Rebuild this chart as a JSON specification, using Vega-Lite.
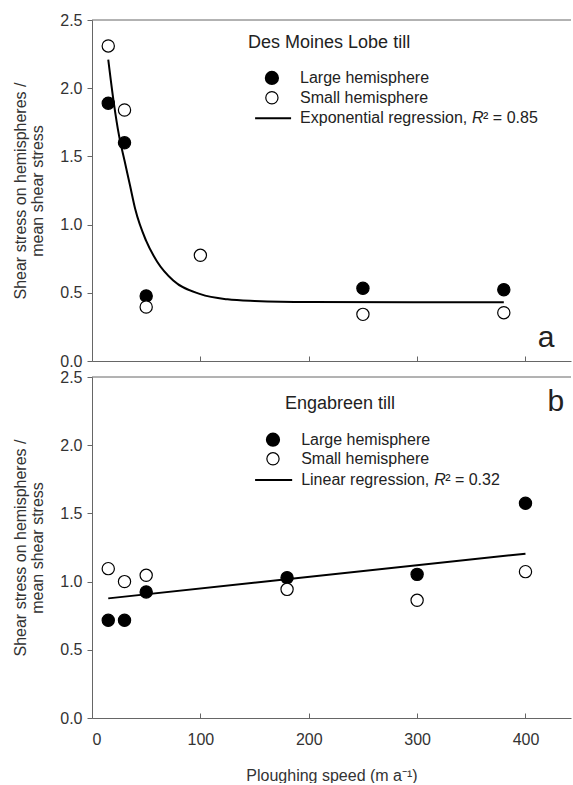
{
  "$schema": "https://vega.github.io/schema/vega-lite/v6.json",
  "autosize": {"type": "pad"},
  "padding": {"left": 12, "top": 12, "right": 0, "bottom": 0},
  "background": "white",
  "spacing": 0,
  "config": {
    "font": "Liberation Sans",
    "view": {"stroke": null},
    "axis": {
      "grid": false,
      "domainColor": "#666",
      "tickColor": "#666",
      "labelColor": "#333",
      "titleColor": "#333",
      "labelFont": "Liberation Sans",
      "titleFont": "Liberation Sans",
      "labelFontSize": 16,
      "titleFontSize": 16,
      "titleFontWeight": "normal"
    }
  },
  "datasets": {
    "one": [{}],
    "pts": [
      {"panel": "a", "hemisphere": "Small", "speed": 15, "ratio": 2.31},
      {"panel": "a", "hemisphere": "Large", "speed": 15, "ratio": 1.89},
      {"panel": "a", "hemisphere": "Small", "speed": 30, "ratio": 1.84},
      {"panel": "a", "hemisphere": "Large", "speed": 30, "ratio": 1.6},
      {"panel": "a", "hemisphere": "Large", "speed": 50, "ratio": 0.477},
      {"panel": "a", "hemisphere": "Small", "speed": 50, "ratio": 0.396},
      {"panel": "a", "hemisphere": "Small", "speed": 100, "ratio": 0.775},
      {"panel": "a", "hemisphere": "Large", "speed": 250, "ratio": 0.533},
      {"panel": "a", "hemisphere": "Small", "speed": 250, "ratio": 0.342},
      {"panel": "a", "hemisphere": "Large", "speed": 380, "ratio": 0.523},
      {"panel": "a", "hemisphere": "Small", "speed": 380, "ratio": 0.354},
      {"panel": "b", "hemisphere": "Small", "speed": 15, "ratio": 1.095},
      {"panel": "b", "hemisphere": "Small", "speed": 30, "ratio": 1.0},
      {"panel": "b", "hemisphere": "Small", "speed": 50, "ratio": 1.046},
      {"panel": "b", "hemisphere": "Large", "speed": 15, "ratio": 0.716},
      {"panel": "b", "hemisphere": "Large", "speed": 30, "ratio": 0.716},
      {"panel": "b", "hemisphere": "Large", "speed": 50, "ratio": 0.924},
      {"panel": "b", "hemisphere": "Large", "speed": 180, "ratio": 1.029},
      {"panel": "b", "hemisphere": "Small", "speed": 180, "ratio": 0.943},
      {"panel": "b", "hemisphere": "Large", "speed": 300, "ratio": 1.053},
      {"panel": "b", "hemisphere": "Small", "speed": 300, "ratio": 0.863},
      {"panel": "b", "hemisphere": "Large", "speed": 400, "ratio": 1.574},
      {"panel": "b", "hemisphere": "Small", "speed": 400, "ratio": 1.073}
    ],
    "fit": [
      {"panel": "a", "speed": 15, "ratio": 2.21},
      {"panel": "a", "speed": 20, "ratio": 1.9},
      {"panel": "a", "speed": 25, "ratio": 1.65},
      {"panel": "a", "speed": 30, "ratio": 1.47},
      {"panel": "a", "speed": 35, "ratio": 1.29},
      {"panel": "a", "speed": 40, "ratio": 1.11},
      {"panel": "a", "speed": 50, "ratio": 0.88},
      {"panel": "a", "speed": 60, "ratio": 0.73},
      {"panel": "a", "speed": 75, "ratio": 0.59},
      {"panel": "a", "speed": 100, "ratio": 0.49},
      {"panel": "a", "speed": 125, "ratio": 0.452},
      {"panel": "a", "speed": 150, "ratio": 0.44},
      {"panel": "a", "speed": 200, "ratio": 0.432},
      {"panel": "a", "speed": 380, "ratio": 0.43},
      {"panel": "b", "speed": 15, "ratio": 0.877},
      {"panel": "b", "speed": 400, "ratio": 1.205}
    ]
  },
  "vconcat": [
    {
      "width": 479,
      "height": 341,
      "layer": [
        {
          "data": {"name": "one"},
          "mark": {"type": "rule", "color": "#666", "strokeWidth": 1},
          "encoding": {"y": {"datum": 2.5, "type": "quantitative", "scale": {"domain": [0, 2.5], "nice": false}}}
        },
        {
          "data": {"name": "fit"},
          "transform": [{"filter": "datum.panel === 'a'"}],
          "mark": {"type": "line", "color": "black", "strokeWidth": 2, "interpolate": "monotone"},
          "encoding": {
            "x": {"field": "speed", "type": "quantitative", "scale": {"domain": [0, 442], "nice": false, "zero": true},
                  "axis": {"values": [0, 100, 200, 300, 400], "labels": false, "title": null, "tickSize": -5}},
            "y": {"field": "ratio", "type": "quantitative", "scale": {"domain": [0, 2.5], "nice": false},
                  "axis": {"values": [0, 0.5, 1, 1.5, 2, 2.5], "format": ".1f", "tickSize": 5, "labelPadding": 5,
                           "title": ["Shear stress on hemispheres /", "mean shear stress"], "titleLineHeight": 17, "titlePadding": 14}}
          }
        },
        {
          "data": {"name": "pts"},
          "transform": [{"filter": "datum.panel === 'a'"}],
          "mark": {"type": "circle", "size": 150, "stroke": "black", "strokeWidth": 1.2, "opacity": 1},
          "encoding": {
            "x": {"field": "speed", "type": "quantitative"},
            "y": {"field": "ratio", "type": "quantitative"},
            "fill": {"field": "hemisphere", "type": "nominal", "scale": {"domain": ["Large", "Small"], "range": ["black", "white"]}, "legend": null}
          }
        },
        {
          "data": {"name": "one"},
          "mark": {"type": "text", "align": "left", "baseline": "middle", "fontSize": 18, "color": "#222"},
          "encoding": {"x": {"datum": 144}, "y": {"datum": 2.33}, "text": {"value": "Des Moines Lobe till"}}
        },
        {
          "data": {"name": "one"},
          "mark": {"type": "circle", "size": 150, "fill": "black", "stroke": "black", "opacity": 1},
          "encoding": {"x": {"datum": 166}, "y": {"datum": 2.075}}
        },
        {
          "data": {"name": "one"},
          "mark": {"type": "circle", "size": 150, "fill": "white", "stroke": "black", "strokeWidth": 1.2, "opacity": 1},
          "encoding": {"x": {"datum": 166}, "y": {"datum": 1.93}}
        },
        {
          "data": {"name": "one"},
          "mark": {"type": "rule", "color": "black", "strokeWidth": 2},
          "encoding": {"x": {"datum": 150.5}, "x2": {"datum": 183.7}, "y": {"datum": 1.78}}
        },
        {
          "data": {"name": "one"},
          "mark": {"type": "text", "align": "left", "baseline": "middle", "fontSize": 16, "color": "#222"},
          "encoding": {"x": {"datum": 192}, "y": {"datum": 2.075}, "text": {"value": "Large hemisphere"}}
        },
        {
          "data": {"name": "one"},
          "mark": {"type": "text", "align": "left", "baseline": "middle", "fontSize": 16, "color": "#222"},
          "encoding": {"x": {"datum": 192}, "y": {"datum": 1.93}, "text": {"value": "Small hemisphere"}}
        },
        {
          "data": {"name": "one"},
          "mark": {"type": "text", "align": "left", "baseline": "middle", "fontSize": 16, "color": "#222"},
          "encoding": {"x": {"datum": 192}, "y": {"datum": 1.78}, "text": {"value": "Exponential regression,"}}
        },
        {
          "data": {"name": "one"},
          "mark": {"type": "text", "align": "left", "baseline": "middle", "fontSize": 16, "fontStyle": "italic", "color": "#222", "dx": 172},
          "encoding": {"x": {"datum": 192}, "y": {"datum": 1.78}, "text": {"value": "R"}}
        },
        {
          "data": {"name": "one"},
          "mark": {"type": "text", "align": "left", "baseline": "middle", "fontSize": 16, "color": "#222", "dx": 183},
          "encoding": {"x": {"datum": 192}, "y": {"datum": 1.78}, "text": {"value": "² = 0.85"}}
        },
        {
          "data": {"name": "one"},
          "mark": {"type": "text", "align": "center", "baseline": "middle", "fontSize": 30, "color": "#222"},
          "encoding": {"x": {"datum": 419}, "y": {"datum": 0.17}, "text": {"value": "a"}}
        }
      ]
    },
    {
      "width": 479,
      "height": 341,
      "layer": [
        {
          "data": {"name": "one"},
          "mark": {"type": "rule", "color": "#666", "strokeWidth": 1},
          "encoding": {"y": {"datum": 2.5, "type": "quantitative", "scale": {"domain": [0, 2.5], "nice": false}}}
        },
        {
          "data": {"name": "fit"},
          "transform": [{"filter": "datum.panel === 'b'"}],
          "mark": {"type": "line", "color": "black", "strokeWidth": 2},
          "encoding": {
            "x": {"field": "speed", "type": "quantitative", "scale": {"domain": [0, 442], "nice": false, "zero": true},
                  "axis": {"values": [0, 100, 200, 300, 400], "tickSize": -5, "labelPadding": 18,
                           "title": "Ploughing speed (m a⁻¹)", "titlePadding": 20}},
            "y": {"field": "ratio", "type": "quantitative", "scale": {"domain": [0, 2.5], "nice": false},
                  "axis": {"values": [0, 0.5, 1, 1.5, 2, 2.5], "format": ".1f", "tickSize": 5, "labelPadding": 5,
                           "title": ["Shear stress on hemispheres /", "mean shear stress"], "titleLineHeight": 17, "titlePadding": 14}}
          }
        },
        {
          "data": {"name": "pts"},
          "transform": [{"filter": "datum.panel === 'b'"}],
          "mark": {"type": "circle", "size": 150, "stroke": "black", "strokeWidth": 1.2, "opacity": 1},
          "encoding": {
            "x": {"field": "speed", "type": "quantitative"},
            "y": {"field": "ratio", "type": "quantitative"},
            "fill": {"field": "hemisphere", "type": "nominal", "scale": {"domain": ["Large", "Small"], "range": ["black", "white"]}, "legend": null}
          }
        },
        {
          "data": {"name": "one"},
          "mark": {"type": "text", "align": "left", "baseline": "middle", "fontSize": 18, "color": "#222"},
          "encoding": {"x": {"datum": 178}, "y": {"datum": 2.3}, "text": {"value": "Engabreen till"}}
        },
        {
          "data": {"name": "one"},
          "mark": {"type": "circle", "size": 150, "fill": "black", "stroke": "black", "opacity": 1},
          "encoding": {"x": {"datum": 167}, "y": {"datum": 2.04}}
        },
        {
          "data": {"name": "one"},
          "mark": {"type": "circle", "size": 150, "fill": "white", "stroke": "black", "strokeWidth": 1.2, "opacity": 1},
          "encoding": {"x": {"datum": 167}, "y": {"datum": 1.9}}
        },
        {
          "data": {"name": "one"},
          "mark": {"type": "rule", "color": "black", "strokeWidth": 2},
          "encoding": {"x": {"datum": 150.5}, "x2": {"datum": 184.7}, "y": {"datum": 1.745}}
        },
        {
          "data": {"name": "one"},
          "mark": {"type": "text", "align": "left", "baseline": "middle", "fontSize": 16, "color": "#222"},
          "encoding": {"x": {"datum": 193}, "y": {"datum": 2.04}, "text": {"value": "Large hemisphere"}}
        },
        {
          "data": {"name": "one"},
          "mark": {"type": "text", "align": "left", "baseline": "middle", "fontSize": 16, "color": "#222"},
          "encoding": {"x": {"datum": 193}, "y": {"datum": 1.9}, "text": {"value": "Small hemisphere"}}
        },
        {
          "data": {"name": "one"},
          "mark": {"type": "text", "align": "left", "baseline": "middle", "fontSize": 16, "color": "#222"},
          "encoding": {"x": {"datum": 193}, "y": {"datum": 1.745}, "text": {"value": "Linear regression,"}}
        },
        {
          "data": {"name": "one"},
          "mark": {"type": "text", "align": "left", "baseline": "middle", "fontSize": 16, "fontStyle": "italic", "color": "#222", "dx": 133},
          "encoding": {"x": {"datum": 193}, "y": {"datum": 1.745}, "text": {"value": "R"}}
        },
        {
          "data": {"name": "one"},
          "mark": {"type": "text", "align": "left", "baseline": "middle", "fontSize": 16, "color": "#222", "dx": 144},
          "encoding": {"x": {"datum": 193}, "y": {"datum": 1.745}, "text": {"value": "² = 0.32"}}
        },
        {
          "data": {"name": "one"},
          "mark": {"type": "text", "align": "center", "baseline": "middle", "fontSize": 30, "color": "#222"},
          "encoding": {"x": {"datum": 428}, "y": {"datum": 2.32}, "text": {"value": "b"}}
        }
      ]
    }
  ]
}
